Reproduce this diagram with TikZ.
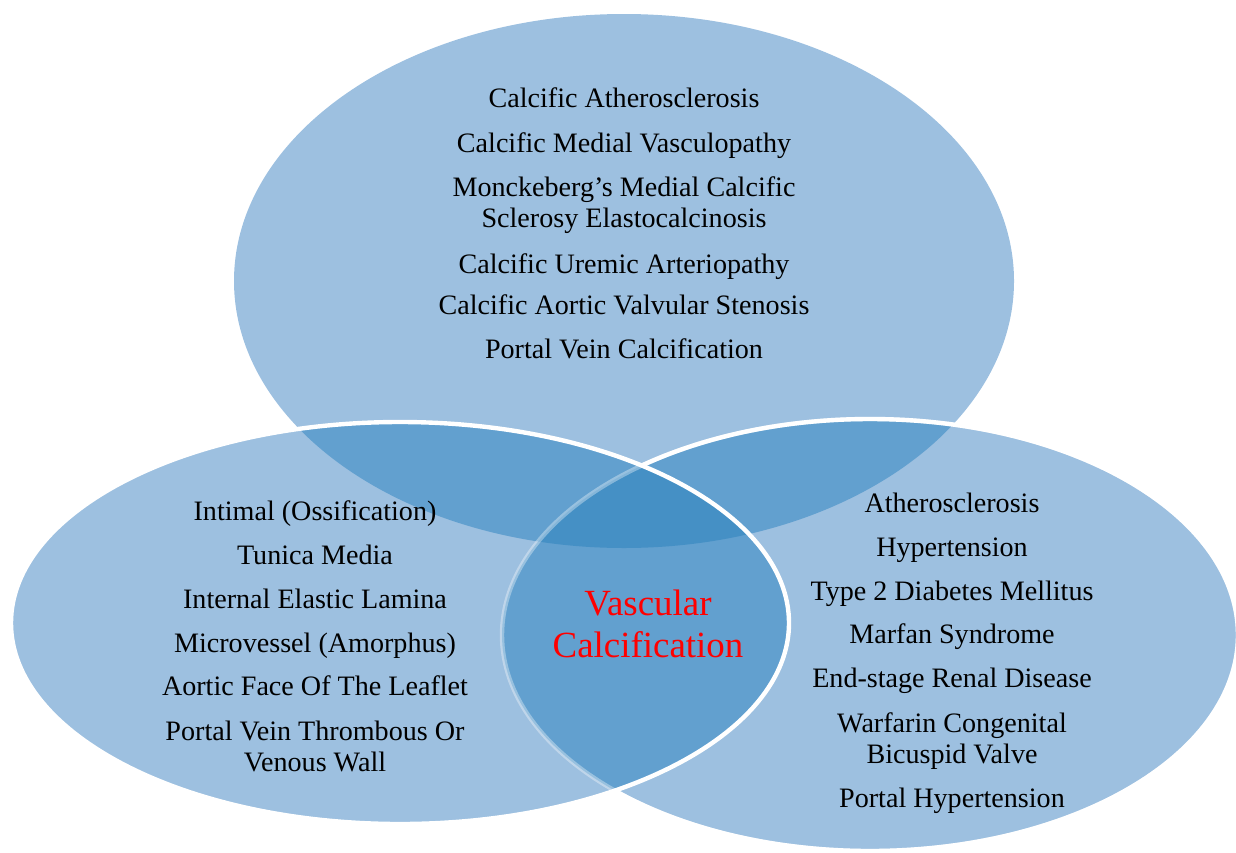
\documentclass[tikz,border=0pt]{standalone}
\usepackage{fontspec}
\setmainfont{Liberation Serif}
\usepackage{xcolor}
\definecolor{vlight}{RGB}{157,192,224}
\definecolor{vmid}{RGB}{98,160,207}
\definecolor{vdark}{RGB}{69,144,197}
\usepackage{tikz}
\usetikzlibrary{positioning}

\newcommand{\topell}{(624,-281) ellipse [x radius=390, y radius=267]}
\newcommand{\leftell}{(400,-623) ellipse [x radius=389, y radius=201]}
\newcommand{\rightell}{(870,-635) ellipse [x radius=368, y radius=216]}

\begin{document}
\begin{tikzpicture}[x=0.02cm, y=0.02cm]
	\useasboundingbox (0,0) rectangle (1236,-852);

	% single regions
	\fill[vlight] \topell;
	\fill[vlight] \leftell;
	\fill[vlight] \rightell;

	% pairwise overlaps
	\begin{scope}
		\clip \topell;
		\fill[vmid] \leftell;
		\fill[vmid] \rightell;
	\end{scope}
	\begin{scope}
		\clip \leftell;
		\fill[vmid] \rightell;
	\end{scope}
	\begin{scope}
		\clip \topell;
		\clip \leftell;
		\fill[vdark] \rightell;
	\end{scope}

	% outlines
	\draw[white, opacity=0.35, line width=2.5] \rightell;
	\begin{scope}[even odd rule]
		\clip (-10,10) rectangle (1250,-870) \leftell;
		\draw[white, line width=2.5] \rightell;
	\end{scope}
	\draw[white, line width=2.5] \leftell;

	% multi-line nodes sit on the baseline of their last line
	\begin{scope}[every node/.style={align=center, anchor=base, font=\fontsize{16}{17.6}\selectfont, inner sep=0pt}]
		\node (t1) at (624,-107) {Calcific Atherosclerosis};
		\node (t2) at (624,-152) {Calcific Medial Vasculopathy};
		\node (t3) at (624,-227) {Monckeberg's Medial Calcific\\Sclerosy Elastocalcinosis};
		\node (t4) at (624,-273) {Calcific Uremic Arteriopathy};
		\node (t5) at (624,-314) {Calcific Aortic Valvular Stenosis};
		\node (t6) at (624,-358) {Portal Vein Calcification};

		\node (l1) at (315,-520) {Intimal (Ossification)};
		\node (l2) at (315,-564) {Tunica Media};
		\node (l3) at (315,-608) {Internal Elastic Lamina};
		\node (l4) at (315,-652) {Microvessel (Amorphus)};
		\node (l5) at (315,-695) {Aortic Face Of The Leaflet};
		\node (l6) at (315,-771) {Portal Vein Thrombous Or\\Venous Wall};

		\node (r1) at (952,-512) {Atherosclerosis};
		\node (r2) at (952,-556) {Hypertension};
		\node (r3) at (952,-600) {Type 2 Diabetes Mellitus};
		\node (r4) at (952,-643) {Marfan Syndrome};
		\node (r5) at (952,-687) {End-stage Renal Disease};
		\node (r6) at (952,-763) {Warfarin Congenital\\Bicuspid Valve};
		\node (r7) at (952,-807) {Portal Hypertension};
	\end{scope}

	\node (vc) [align=center, anchor=base, red, font=\fontsize{21}{23.8}\selectfont, inner sep=0pt] at (648,-657) {Vascular\\Calcification};
\end{tikzpicture}
\end{document}
